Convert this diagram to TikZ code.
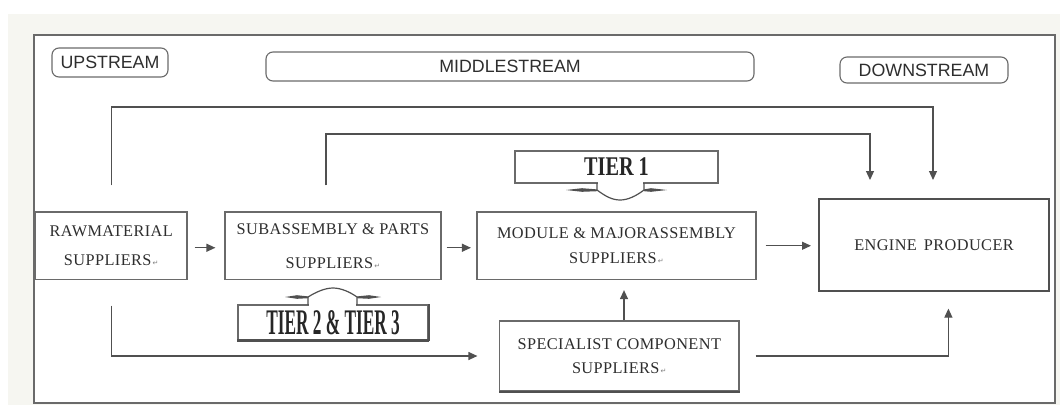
\documentclass[tikz,border=0pt]{standalone}
\usepackage{fontspec}
\usepackage{graphicx}
\setmainfont{Liberation Serif}
\newfontfamily\boxfont[LetterSpace=2.5]{Liberation Serif}
\newfontfamily\pillfont{Liberation Sans}
\newfontfamily\symfont{DejaVu Sans}
\usetikzlibrary{arrows.meta}
\definecolor{linec}{HTML}{505050}
\definecolor{boxc}{HTML}{6A6A6A}
\definecolor{txtc}{HTML}{2E2E2E}
\definecolor{bgc}{HTML}{F6F6F1}
\newcommand{\retmark}{{\symfont\fontsize{7}{7}\selectfont\color{gray}\,↵}}
\begin{document}
\begin{tikzpicture}[x=1pt,y=-1pt,
  box/.style={draw=boxc, line width=1.2pt, fill=white, inner sep=0pt, align=center, text=txtc},
  pill/.style={draw=boxc, line width=1.1pt, rounded corners=7pt, inner sep=0pt, text=txtc,
    font=\pillfont\fontsize{17.8}{20}\selectfont},
  tierbox/.style={draw=boxc, line width=1.2pt, fill=white, inner sep=0pt, text=black!85,
    font=\bfseries},
  conn/.style={draw=linec, line width=1.2pt},
  arr/.style={conn, -{Triangle[length=9pt,width=8pt]}},
]
\useasboundingbox (0,0) rectangle (1060,405);
\fill[white] (0,0) rectangle (1060,405);
\fill[bgc] (8,14) rectangle (1060,405);
\draw[boxc, line width=1.3pt, fill=white] (34,35) rectangle (1055,403);

% stream labels
\node[pill, minimum width=116pt, minimum height=29pt] (up) at (110,62.5) {UPSTREAM};
\node[pill, minimum width=488pt, minimum height=29pt] (mid) at (510,66.5) {MIDDLESTREAM};
\node[pill, minimum width=168pt, minimum height=26pt] (down) at (924,70) {DOWNSTREAM};

% boxes
\node[box, minimum width=151.5pt, minimum height=67.5pt,
  font=\boxfont\fontsize{16.3}{29}\selectfont] (raw) at (111.25,245.75)
  {RAWMATERIAL\\SUPPLIERS\retmark};
\node[box, minimum width=216pt, minimum height=67.5pt,
  font=\boxfont\fontsize{16.3}{34}\selectfont] (sub) at (333,245.75)
  {SUBASSEMBLY \& PARTS\\SUPPLIERS\retmark};
\node[box, minimum width=279pt, minimum height=67.5pt,
  font=\boxfont\fontsize{16.3}{25.5}\selectfont] (module) at (616.5,245.75)
  {MODULE \& MAJORASSEMBLY\\SUPPLIERS\retmark};
\node[box, line width=2pt, draw=linec, minimum width=230pt, minimum height=91.6pt,
  font=\boxfont\fontsize{16.3}{18}\selectfont] (engine) at (934,244.8)
  {ENGINE\hspace{7pt}PRODUCER};
\node[box, minimum width=239.4pt, minimum height=70pt,
  font=\boxfont\fontsize{16.3}{23.6}\selectfont] (spec) at (619.3,356)
  {SPECIALIST COMPONENT\\SUPPLIERS\retmark};
\draw[linec, line width=1.8pt] (spec.south west) -- (spec.south east);

% tier callouts
\node[tierbox, minimum width=203pt, minimum height=32pt] (tier1) at (616.5,167)
  {\fontsize{27}{27}\selectfont\scalebox{0.75}[1]{TIER 1}};
\draw[white, line width=2.4pt] (598,183) -- (643,183);
\draw[conn] (597,183) -- (597,190) .. controls (605,196) and (612,200) .. (620,200)
  .. controls (628,200) and (636,196) .. (644,190) -- (644,183);
\fill[linec] (566,190) -- (582,188.2) -- (597,189.4) -- (597,191.2) -- (582,191.8) -- cycle;
\fill[linec] (667,190) -- (651,188.2) -- (644,189.4) -- (644,191.2) -- (651,191.8) -- cycle;

\node[tierbox, minimum width=190pt, minimum height=35pt] (tier23) at (333,322.5)
  {\fontsize{36}{36}\selectfont\scalebox{0.48}[1]{TIER 2 \& TIER 3}};
\draw[linec, line width=2.6pt] (tier23.south west) -- (tier23.south east);
\draw[linec, line width=1.8pt] (tier23.north east) -- (tier23.south east);
\draw[white, line width=2.4pt] (309,305) -- (356,305);
\draw[conn] (308,305) -- (308,297) .. controls (316,292) and (325,288) .. (333,288)
  .. controls (341,288) and (350,292) .. (357,297) -- (357,305);
\fill[linec] (285,297) -- (297,295.2) -- (308,296.4) -- (308,298.2) -- (297,298.8) -- cycle;
\fill[linec] (381,297) -- (369,295.2) -- (357,296.4) -- (357,298.2) -- (369,298.8) -- cycle;

% connectors
\draw[arr] ([shift={(7,2)}]raw.east) -- ([shift={(-9,2)}]sub.west);
\draw[arr] ([shift={(5,2)}]sub.east) -- ([shift={(-5.5,2)}]module.west);
\draw[arr, shorten <=9pt, shorten >=7pt] (module.east) -- (module.east -| engine.west);

\coordinate (smA) at ([xshift=4.7pt]spec.north);
\coordinate (smB) at (smA |- module.south);
\draw[arr, shorten >=10pt] (smA) -- (smB);

\coordinate (rsA) at ([shift={(0.25,25.5)}]raw.south);
\draw[arr, shorten >=21.6pt] (rsA) |- (spec.west);

\coordinate (seB) at ([xshift=14.4pt]engine.south);
\draw[arr, shorten <=16pt, shorten >=17pt] (spec.east) -| (seB);

\coordinate (l1A) at ([shift={(0.25,-26)}]raw.north);
\coordinate (l1B) at ([xshift=-1pt]engine.north);
\draw[arr, shorten >=18pt] (l1A) -- ++(0,-78.5) -| (l1B);

\coordinate (l2A) at ([shift={(-7,-26)}]sub.north);
\coordinate (l2B) at ([xshift=-64pt]engine.north);
\draw[arr, shorten >=18pt] (l2A) -- ++(0,-51.5) -| (l2B);
\end{tikzpicture}
\end{document}
